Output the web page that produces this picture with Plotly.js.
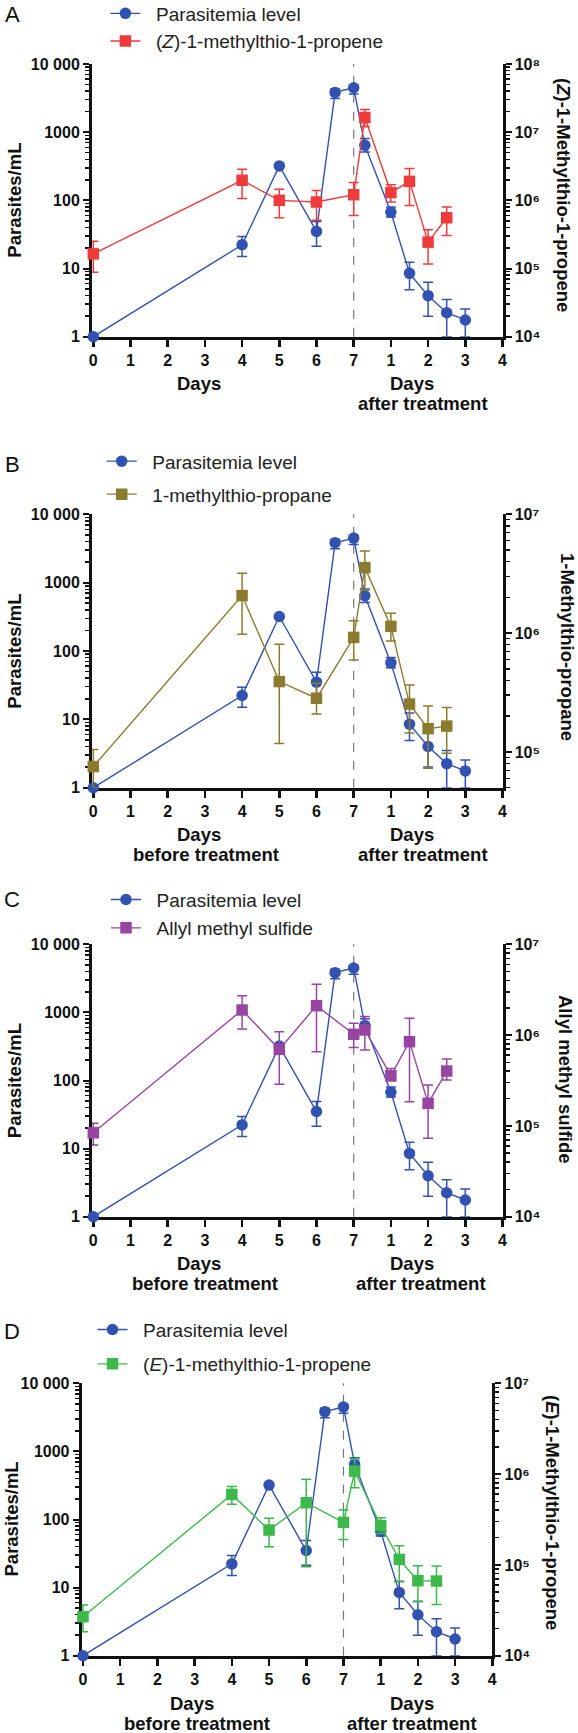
<!DOCTYPE html>
<html>
<head>
<meta charset="utf-8">
<script src="https://cdn.plot.ly/plotly-3.0.1.min.js"></script>
<style>html,body{margin:0;padding:0;background:#fff}#chart{width:578px;height:1733px}</style>
</head>
<body>
<div id="chart"></div>
<script>
// ---------------- DATA ----------------
// x position on the combined axis: 0..7 = days before treatment, 8..11 = days 1..4 after treatment
const parasiteDays = [0, 4, 5, 6, 6.5, 7, 7.3, 8, 8.5, 9, 9.5, 10];
const parasites     = [1, 22.3, 320, 35, 3830, 4490, 644, 67, 8.5, 4.0, 2.25, 1.76];
const parasitesHigh = [1, 29.5, 320, 49, 4300, 4900, 807, 80, 12.4, 6.3, 3.5, 2.55];
const parasitesLow  = [1, 15, 320, 21.3, 3125, 3630, 513, 57, 4.9, 2.0, 1.0, 1.0];

const sampleDays = [0, 4, 5, 6, 7, 7.3, 8, 8.5, 9, 9.5];

const zPropene     = [1.64e5, 1.97e6, 1.0e6, 9.45e5, 1.21e6, 1.64e7, 1.3e6, 1.9e6, 2.44e5, 5.56e5];
const zPropeneHigh = [2.52e5, 2.86e6, 1.45e6, 1.4e6, 1.82e6, 2.15e7, 1.7e6, 2.92e6, 3.7e5, 7.98e5];
const zPropeneLow  = [8.8e4, 1.06e6, 5.56e5, 5.09e5, 6.0e5, 1.2e7, 9.45e5, 8.4e5, 1.17e5, 3.05e5];

const mtPropane     = [7.53e4, 2.07e6, 3.91e5, 2.83e5, 9.2e5, 3.56e6, 1.14e6, 2.53e5, 1.57e5, 1.65e5];
const mtPropaneHigh = [1.05e5, 3.19e6, 8.05e5, 3.79e5, 1.27e6, 4.91e6, 1.47e6, 3.66e5, 2.44e5, 2.36e5];
const mtPropaneLow  = [5.0e4, 9.8e5, 1.18e5, 2.09e5, 5.94e5, 2.31e6, 8.6e5, 1.44e5, 7.3e4, 9.75e4];

const allylSulfide     = [8.4e4, 1.89e6, 6.97e5, 2.11e6, 1.02e6, 1.14e6, 3.57e5, 8.47e5, 1.77e5, 4.02e5];
const allylSulfideHigh = [1.07e5, 2.72e6, 1.09e6, 3.62e6, 1.35e6, 1.6e6, 4.3e5, 1.53e6, 2.82e5, 5.45e5];
const allylSulfideLow  = [6.15e4, 1.17e6, 2.87e5, 6.56e5, 7.28e5, 6.86e5, 3.15e5, 1.85e5, 7.3e4, 3.2e5];

const ePropene     = [2.69e4, 5.98e5, 2.42e5, 4.84e5, 2.94e5, 1.08e6, 2.71e5, 1.15e5, 6.7e4, 6.64e4];
const ePropeneHigh = [3.61e4, 7.28e5, 3.26e5, 8.75e5, 4.02e5, 1.46e6, 3.31e5, 1.63e5, 9.8e4, 9.7e4];
const ePropeneLow  = [1.84e4, 4.65e5, 1.58e5, 9.55e4, 1.91e5, 7.08e5, 2.22e5, 6.53e4, 3.94e4, 3.67e4];

const xTickVals = [0, 1, 2, 3, 4, 5, 6, 7, 8, 9, 10, 11];
const xTickText = ['0', '1', '2', '3', '4', '5', '6', '7', '1', '2', '3', '4'];
const leftTickVals = [1, 10, 100, 1000, 10000];
const leftTickText = ['1', '10', '100', '1000', '10 000'];
const rightTickValsA = [1e4, 1e5, 1e6, 1e7, 1e8];
const rightTickTextA = ['10⁴', '10⁵', '10⁶', '10⁷', '10⁸'];
const rightTickValsB = [1e5, 1e6, 1e7];
const rightTickTextB = ['10⁵', '10⁶', '10⁷'];
const rightTickValsCD = [1e4, 1e5, 1e6, 1e7];
const rightTickTextCD = ['10⁴', '10⁵', '10⁶', '10⁷'];

const parasiteName = 'Parasitemia level';
const leftAxisTitle = 'Parasites/mL';

// ---------------- LAYOUT / STYLE ----------------
const W = 578, H = 1733;
const FONT = 'Liberation Sans, Arial, Helvetica, sans-serif';
const INK = '#111111';
const BLUE = '#3152B0';
const PAD = '\u00A0\u00A0';
const px = p => p / W;
const py = p => 1 - p / H;

const panels = [
  { letter: 'A', name: '(<i>Z</i>)-1-methylthio-1-propene', title: '(<i>Z</i>)-1-Methylthio-1-propene',
    v: zPropene, hi: zPropeneHigh, lo: zPropeneLow, color: '#EE3B3B',
    rRange: [4, 8], rTV: rightTickValsA, rTT: rightTickTextA,
    box: { l: 92, r: 502.5, t: 64, b: 336.7 }, letterPos: [12, 14],
    leg: { x: 125.4, y: 15.5, gap: 27.5 }, lTitle: [14.7, 200], rTitle: [564, 195],
    daysL: [199, 383.7], before: null, daysR: [412, 383.7], after: [423, 403.8] },
  { letter: 'B', name: '1-methylthio-propane', title: '1-Methylthio-propane',
    v: mtPropane, hi: mtPropaneHigh, lo: mtPropaneLow, color: '#8C7B2F',
    rRange: [Math.log10(5e4), 7], rTV: rightTickValsB, rTT: rightTickTextB,
    box: { l: 92, r: 502.5, t: 514.3, b: 787.7 }, letterPos: [12, 464],
    leg: { x: 121.7, y: 463.3, gap: 33 }, lTitle: [14.7, 651], rTitle: [568, 647],
    daysL: [199, 834.7], before: [206, 854.7], daysR: [412, 834.7], after: [423, 854.7] },
  { letter: 'C', name: 'Allyl methyl sulfide', title: 'Allyl methyl sulfide',
    v: allylSulfide, hi: allylSulfideHigh, lo: allylSulfideLow, color: '#9646A0',
    rRange: [4, 7], rTV: rightTickValsCD, rTT: rightTickTextCD,
    box: { l: 92, r: 502.5, t: 944.3, b: 1216.7 }, letterPos: [12, 899],
    leg: { x: 126, y: 901.7, gap: 28.3 }, lTitle: [14.7, 1080.5], rTitle: [566, 1079],
    daysL: [199, 1263.7], before: [205, 1283.7], daysR: [412, 1263.7], after: [421, 1283.7] },
  { letter: 'D', name: '(<i>E</i>)-1-methylthio-1-propene', title: '(<i>E</i>)-1-Methylthio-1-propene',
    v: ePropene, hi: ePropeneHigh, lo: ePropeneLow, color: '#3DB84B',
    rRange: [4, 7], rTV: rightTickValsCD, rTT: rightTickTextCD,
    box: { l: 81.7, r: 492.3, t: 1383.3, b: 1655.7 }, letterPos: [12, 1331],
    leg: { x: 112.5, y: 1331.7, gap: 34.3 }, lTitle: [11, 1519.5], rTitle: [553, 1512],
    daysL: [192, 1703], before: [197, 1723], daysR: [411.5, 1703], after: [412, 1723] }
];

function minorVals(lo, hi) {
  const out = [];
  for (let e = lo; e < hi; e++) for (let d = 2; d <= 9; d++) out.push(d * Math.pow(10, e));
  return out;
}

const LEG_SIZE = 19;
const LEG_ITEM_H = LEG_SIZE * 1.3 + 3;
const tickFont = { family: FONT, size: 16, color: INK, weight: 'bold' };
const traces = [];
const layout = {
  width: W, height: H, margin: { l: 0, r: 0, t: 0, b: 0, autoexpand: false },
  paper_bgcolor: '#fff', plot_bgcolor: 'rgba(0,0,0,0)',
  font: { family: FONT, color: INK },
  shapes: [], annotations: []
};

panels.forEach((p, i) => {
  const xa = i === 0 ? 'x' : 'x' + (i + 1);
  const ya = i === 0 ? 'y' : 'y' + (i + 1);
  const yr = 'y' + (i + 5);
  const legKey = i === 0 ? 'legend' : 'legend' + (i + 1);

  traces.push({
    type: 'scatter', mode: 'lines+markers', name: PAD + parasiteName,
    x: parasiteDays, y: parasites, xaxis: xa, yaxis: ya,
    legend: legKey, legendgroup: 'p' + i, cliponaxis: false,
    line: { color: BLUE, width: 1.4 },
    marker: { symbol: 'circle', size: 11.5, color: BLUE },
    error_y: { type: 'data', symmetric: false,
      array: parasitesHigh.map((h, k) => h - parasites[k]),
      arrayminus: parasites.map((v, k) => v - parasitesLow[k]),
      color: BLUE, thickness: 1.5, width: 5 }
  });
  traces.push({
    type: 'scatter', mode: 'lines+markers', name: PAD + p.name,
    x: sampleDays, y: p.v, xaxis: xa, yaxis: yr,
    legend: legKey, legendgroup: 'c' + i, cliponaxis: false,
    line: { color: p.color, width: 1.4 },
    marker: { symbol: 'square', size: 11.5, color: p.color },
    error_y: { type: 'data', symmetric: false,
      array: p.hi.map((h, k) => h - p.v[k]),
      arrayminus: p.v.map((v, k) => v - p.lo[k]),
      color: p.color, thickness: 1.5, width: 5 }
  });

  const b = p.box;
  layout['xaxis' + (i === 0 ? '' : i + 1)] = {
    domain: [px(b.l), px(b.r)], anchor: ya, range: [-0.035, 11],
    tickmode: 'array', tickvals: xTickVals, ticktext: xTickText,
    ticks: 'outside', ticklen: 7, tickwidth: 2.5, tickcolor: INK,
    showline: true, linewidth: 3, linecolor: INK, showgrid: false, zeroline: false,
    tickfont: tickFont, layer: 'below traces', fixedrange: true
  };
  layout['yaxis' + (i === 0 ? '' : i + 1)] = {
    domain: [py(b.b), py(b.t)], anchor: xa, type: 'log', range: [0, 4],
    tickmode: 'array', tickvals: leftTickVals, ticktext: leftTickText,
    ticks: 'outside', ticklen: 6, tickwidth: 2, tickcolor: INK,
    minor: { tickmode: 'array', tickvals: minorVals(0, 4), ticks: 'outside', ticklen: 4, tickwidth: 1.5, tickcolor: INK, showgrid: false },
    showline: true, linewidth: 3, linecolor: INK, showgrid: false, zeroline: false,
    tickfont: tickFont, layer: 'below traces', fixedrange: true
  };
  layout['yaxis' + (i + 5)] = {
    overlaying: ya, side: 'right', anchor: xa, type: 'log', range: p.rRange,
    tickmode: 'array', tickvals: p.rTV, ticktext: p.rTT,
    ticks: 'outside', ticklen: 6, tickwidth: 2, tickcolor: INK,
    minor: { tickmode: 'array', tickvals: minorVals(4, 8), ticks: 'outside', ticklen: 4, tickwidth: 1.5, tickcolor: INK, showgrid: false },
    showline: true, linewidth: 3, linecolor: INK, showgrid: false, zeroline: false,
    tickfont: tickFont, layer: 'below traces', fixedrange: true
  };

  layout[legKey] = {
    x: px(p.leg.x - 20), xanchor: 'left', y: py(p.leg.y - 21), yanchor: 'top',
    bgcolor: 'rgba(0,0,0,0)', borderwidth: 0,
    font: { family: FONT, size: LEG_SIZE, color: '#222' },
    itemwidth: 30, traceorder: 'grouped', tracegroupgap: Math.max(0, p.leg.gap - LEG_ITEM_H)
  };

  layout.shapes.push({
    type: 'line', xref: xa, yref: ya + ' domain', x0: 7, x1: 7, y0: 0, y1: 1,
    line: { color: '#777', width: 1.2, dash: 'dash' }, layer: 'below'
  });

  const ann = (text, pos, size, angle, bold) => layout.annotations.push({
    xref: 'paper', yref: 'paper', x: px(pos[0]), y: py(pos[1]),
    xanchor: 'center', yanchor: 'middle', showarrow: false, textangle: angle || 0,
    text: text,
    font: { family: FONT, size: size, color: INK, weight: bold ? 'bold' : 'normal' }
  });
  ann(p.letter, p.letterPos, 22, 0, false);
  ann(leftAxisTitle, p.lTitle, 18.5, -90, true);
  ann(p.title, p.rTitle, 18.5, 90, true);
  ann('Days', p.daysL, 18.5, 0, true);
  if (p.before) ann('before treatment', p.before, 18.5, 0, true);
  ann('Days', p.daysR, 18.5, 0, true);
  ann('after treatment', p.after, 18.5, 0, true);
});

Plotly.newPlot('chart', traces, layout, { staticPlot: true, displayModeBar: false });
</script>
</body>
</html>
